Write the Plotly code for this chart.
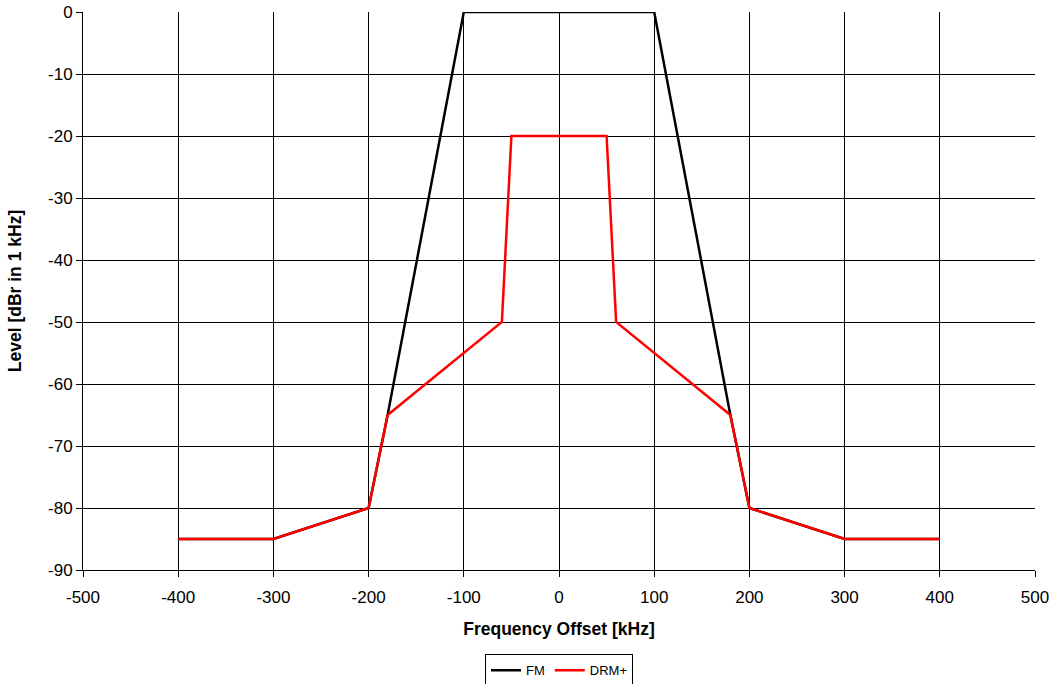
import plotly.graph_objects as go

fm_x = [-400, -300, -200, -180, -100, 100, 180, 200, 300, 400]
fm_y = [-85, -85, -80, -65, 0, 0, -65, -80, -85, -85]
drm_x = [-400, -300, -200, -180, -60, -50, 50, 60, 180, 200, 300, 400]
drm_y = [-85, -85, -80, -65, -50, -20, -20, -50, -65, -80, -85, -85]
x_ticks = [-500, -400, -300, -200, -100, 0, 100, 200, 300, 400, 500]
y_ticks = [0, -10, -20, -30, -40, -50, -60, -70, -80, -90]

fig = go.Figure()
fig.add_trace(go.Scatter(x=fm_x, y=fm_y, mode="lines", name="FM",
                         line=dict(color="#000000", width=2.5)))
fig.add_trace(go.Scatter(x=drm_x, y=drm_y, mode="lines", name="DRM+",
                         line=dict(color="#FF0000", width=2.5)))

font = "Liberation Sans, Arial, sans-serif"
fig.update_layout(
    width=1056, height=684,
    margin=dict(l=83, r=21, t=12, b=114, autoexpand=False),
    paper_bgcolor="white", plot_bgcolor="white",
    font=dict(family=font, size=17, color="black"),
    showlegend=True,
    legend=dict(orientation="h", x=0.5, xanchor="center", y=-0.151, yanchor="top",
                bordercolor="black", borderwidth=1, font=dict(size=13, family=font),
                itemwidth=30, tracegroupgap=0),
    xaxis=dict(range=[-500, 500], tickvals=x_ticks, ticktext=[str(v) for v in x_ticks],
               ticks="outside", ticklen=6, ticklabelstandoff=6, ticklabeloverflow="allow",
               tickcolor="black", showgrid=True, gridcolor="black", gridwidth=1,
               showline=True, linecolor="black", linewidth=1, zeroline=False,
               title=dict(text="<b>Frequency Offset [kHz]</b>", font=dict(size=17.5), standoff=16)),
    yaxis=dict(range=[-90, 0], tickvals=y_ticks, ticktext=[str(v) for v in y_ticks],
               ticks="outside", ticklen=6, ticklabeloverflow="allow",
               tickcolor="black", showgrid=True, gridcolor="black", gridwidth=1,
               showline=True, linecolor="black", linewidth=1, zeroline=False,
               title=dict(text="<b>Level [dBr in 1 kHz]</b>", font=dict(size=17.5), standoff=21)),
)
fig.write_html("out.html", config={"displayModeBar": False},
               post_script="document.body.style.margin='0';document.body.style.overflow='hidden';")
